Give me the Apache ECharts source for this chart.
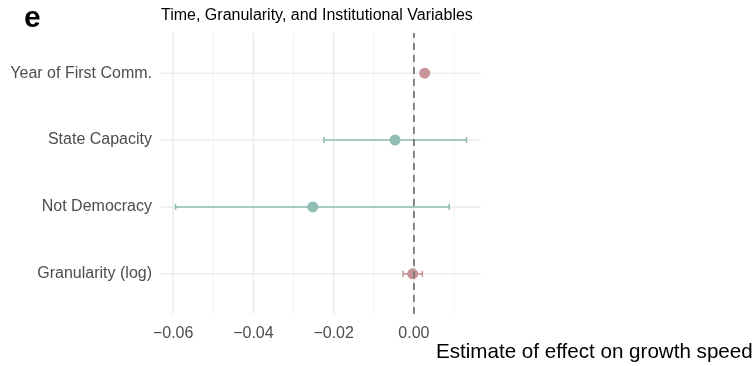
<!DOCTYPE html>
<html><head><meta charset="utf-8">
<script src="https://cdn.jsdelivr.net/npm/echarts@6/dist/echarts.min.js"></script>
<style>html,body{margin:0;padding:0;background:#fff}#c{width:756px;height:366px}</style>
</head><body><div id="c"></div><script>
// ---- data ----
const categories = ['Granularity (log)', 'Not Democracy', 'State Capacity', 'Year of First Comm.'];
const estimates  = [-0.0003, -0.0252, -0.0047, 0.0027];
const lowerCI    = [-0.0027, -0.0594, -0.0224, 0.0021];
const upperCI    = [ 0.0021,  0.0088,  0.0131, 0.0033];
const groups     = ['time', 'institutional', 'institutional', 'time'];
const xMajorTicks = [-0.06, -0.04, -0.02, 0.00];
const xMinorTicks = [-0.05, -0.03, -0.01, 0.01];
const titleText = 'Time, Granularity, and Institutional Variables';
const xTitle = 'Estimate of effect on growth speed';
const panelTag = 'e';

// ---- styling ----
const groupColors = { time: '#c8949a', institutional: '#92bdb4' };
const FONT = '"Liberation Sans", Arial, Helvetica, sans-serif';

const lo = Math.min(...lowerCI), hi = Math.max(...upperCI);
const pad = (hi - lo) * 0.05;
const xMin = lo - pad, xMax = hi + pad;
const yMin = -0.6, yMax = categories.length - 1 + 0.6;

const chart = echarts.init(document.getElementById('c'), null, { renderer: 'canvas' });

function vLines(width, color) {
  return function (params, api) {
    const p0 = api.coord([api.value(0), yMin]);
    const p1 = api.coord([api.value(0), yMax]);
    return { type: 'line', shape: { x1: p0[0], y1: p0[1], x2: p1[0], y2: p1[1] },
             style: { stroke: color, lineWidth: width } };
  };
}

chart.setOption({
  animation: false,
  backgroundColor: '#fff',
  title: {
    text: titleText, left: 161, top: 8, padding: 0,
    textStyle: { fontFamily: FONT, fontSize: 16, fontWeight: 'normal', color: '#000' }
  },
  graphic: [
    { type: 'text', left: 24, top: 4,
      style: { text: panelTag, fontFamily: FONT, fontSize: 30, fontWeight: 'bold', fill: '#000' } },
    { type: 'text', left: 436, top: 342,
      style: { text: xTitle, fontFamily: FONT, fontSize: 20.6, fill: '#000' } }
  ],
  grid: { left: 161, right: 275, top: 33, bottom: 52, containLabel: false },
  xAxis: {
    type: 'value', min: xMin, max: xMax,
    axisLine: { show: false }, axisTick: { show: false }, splitLine: { show: false },
    axisLabel: {
      customValues: xMajorTicks, margin: 12,
      fontFamily: FONT, fontSize: 16, color: '#4d4d4d',
      formatter: v => (v < 0 ? '\u2212' : '') + Math.abs(v).toFixed(2)
    }
  },
  yAxis: {
    type: 'value', min: yMin, max: yMax,
    axisLine: { show: false }, axisTick: { show: false }, splitLine: { show: false },
    axisLabel: {
      customValues: categories.map((c, i) => i), margin: 9,
      fontFamily: FONT, fontSize: 16, color: '#4d4d4d',
      formatter: v => categories[Math.round(v)]
    }
  },
  series: [
    { type: 'custom', data: xMinorTicks.map(v => [v]), renderItem: vLines(0.8, '#f1f1f1'), silent: true, z: 1 },
    { type: 'custom', data: xMajorTicks.map(v => [v]), renderItem: vLines(1.5, '#ebebeb'), silent: true, z: 1 },
    { type: 'custom', data: categories.map((c, i) => [i]), silent: true, z: 1,
      renderItem: (params, api) => {
        const p0 = api.coord([xMin, api.value(0)]);
        const p1 = api.coord([xMax, api.value(0)]);
        return { type: 'line', shape: { x1: p0[0], y1: p0[1], x2: p1[0], y2: p1[1] },
                 style: { stroke: '#ebebeb', lineWidth: 1.5 } };
      } },
    { type: 'custom', z: 3,
      data: categories.map((c, i) => [lowerCI[i], upperCI[i], i, groups[i]]),
      renderItem: (params, api) => {
        const i = params.dataIndex;
        const a = api.coord([lowerCI[i], i]);
        const b = api.coord([upperCI[i], i]);
        const col = groupColors[groups[i]];
        const h = 3;
        return { type: 'group', children: [
          { type: 'line', shape: { x1: a[0], y1: a[1], x2: b[0], y2: b[1] }, style: { stroke: col, lineWidth: 1.6 } },
          { type: 'line', shape: { x1: a[0], y1: a[1] - h, x2: a[0], y2: a[1] + h }, style: { stroke: col, lineWidth: 1.6 } },
          { type: 'line', shape: { x1: b[0], y1: b[1] - h, x2: b[0], y2: b[1] + h }, style: { stroke: col, lineWidth: 1.6 } }
        ] };
      } },
    { type: 'scatter', z: 4, symbol: 'circle', symbolSize: 11,
      data: categories.map((c, i) => ({ value: [estimates[i], i], itemStyle: { color: groupColors[groups[i]], opacity: 1 } })) },
    { type: 'custom', z: 5, data: [[0]], silent: true,
      renderItem: (params, api) => {
        const p0 = api.coord([api.value(0), yMin]);
        const p1 = api.coord([api.value(0), yMax]);
        return { type: 'line', shape: { x1: p0[0], y1: p0[1], x2: p1[0], y2: p1[1] },
                 style: { stroke: '#7a7a7a', lineWidth: 1.8, lineDash: [7, 5] } };
      } }
  ]
});
</script></body></html>
